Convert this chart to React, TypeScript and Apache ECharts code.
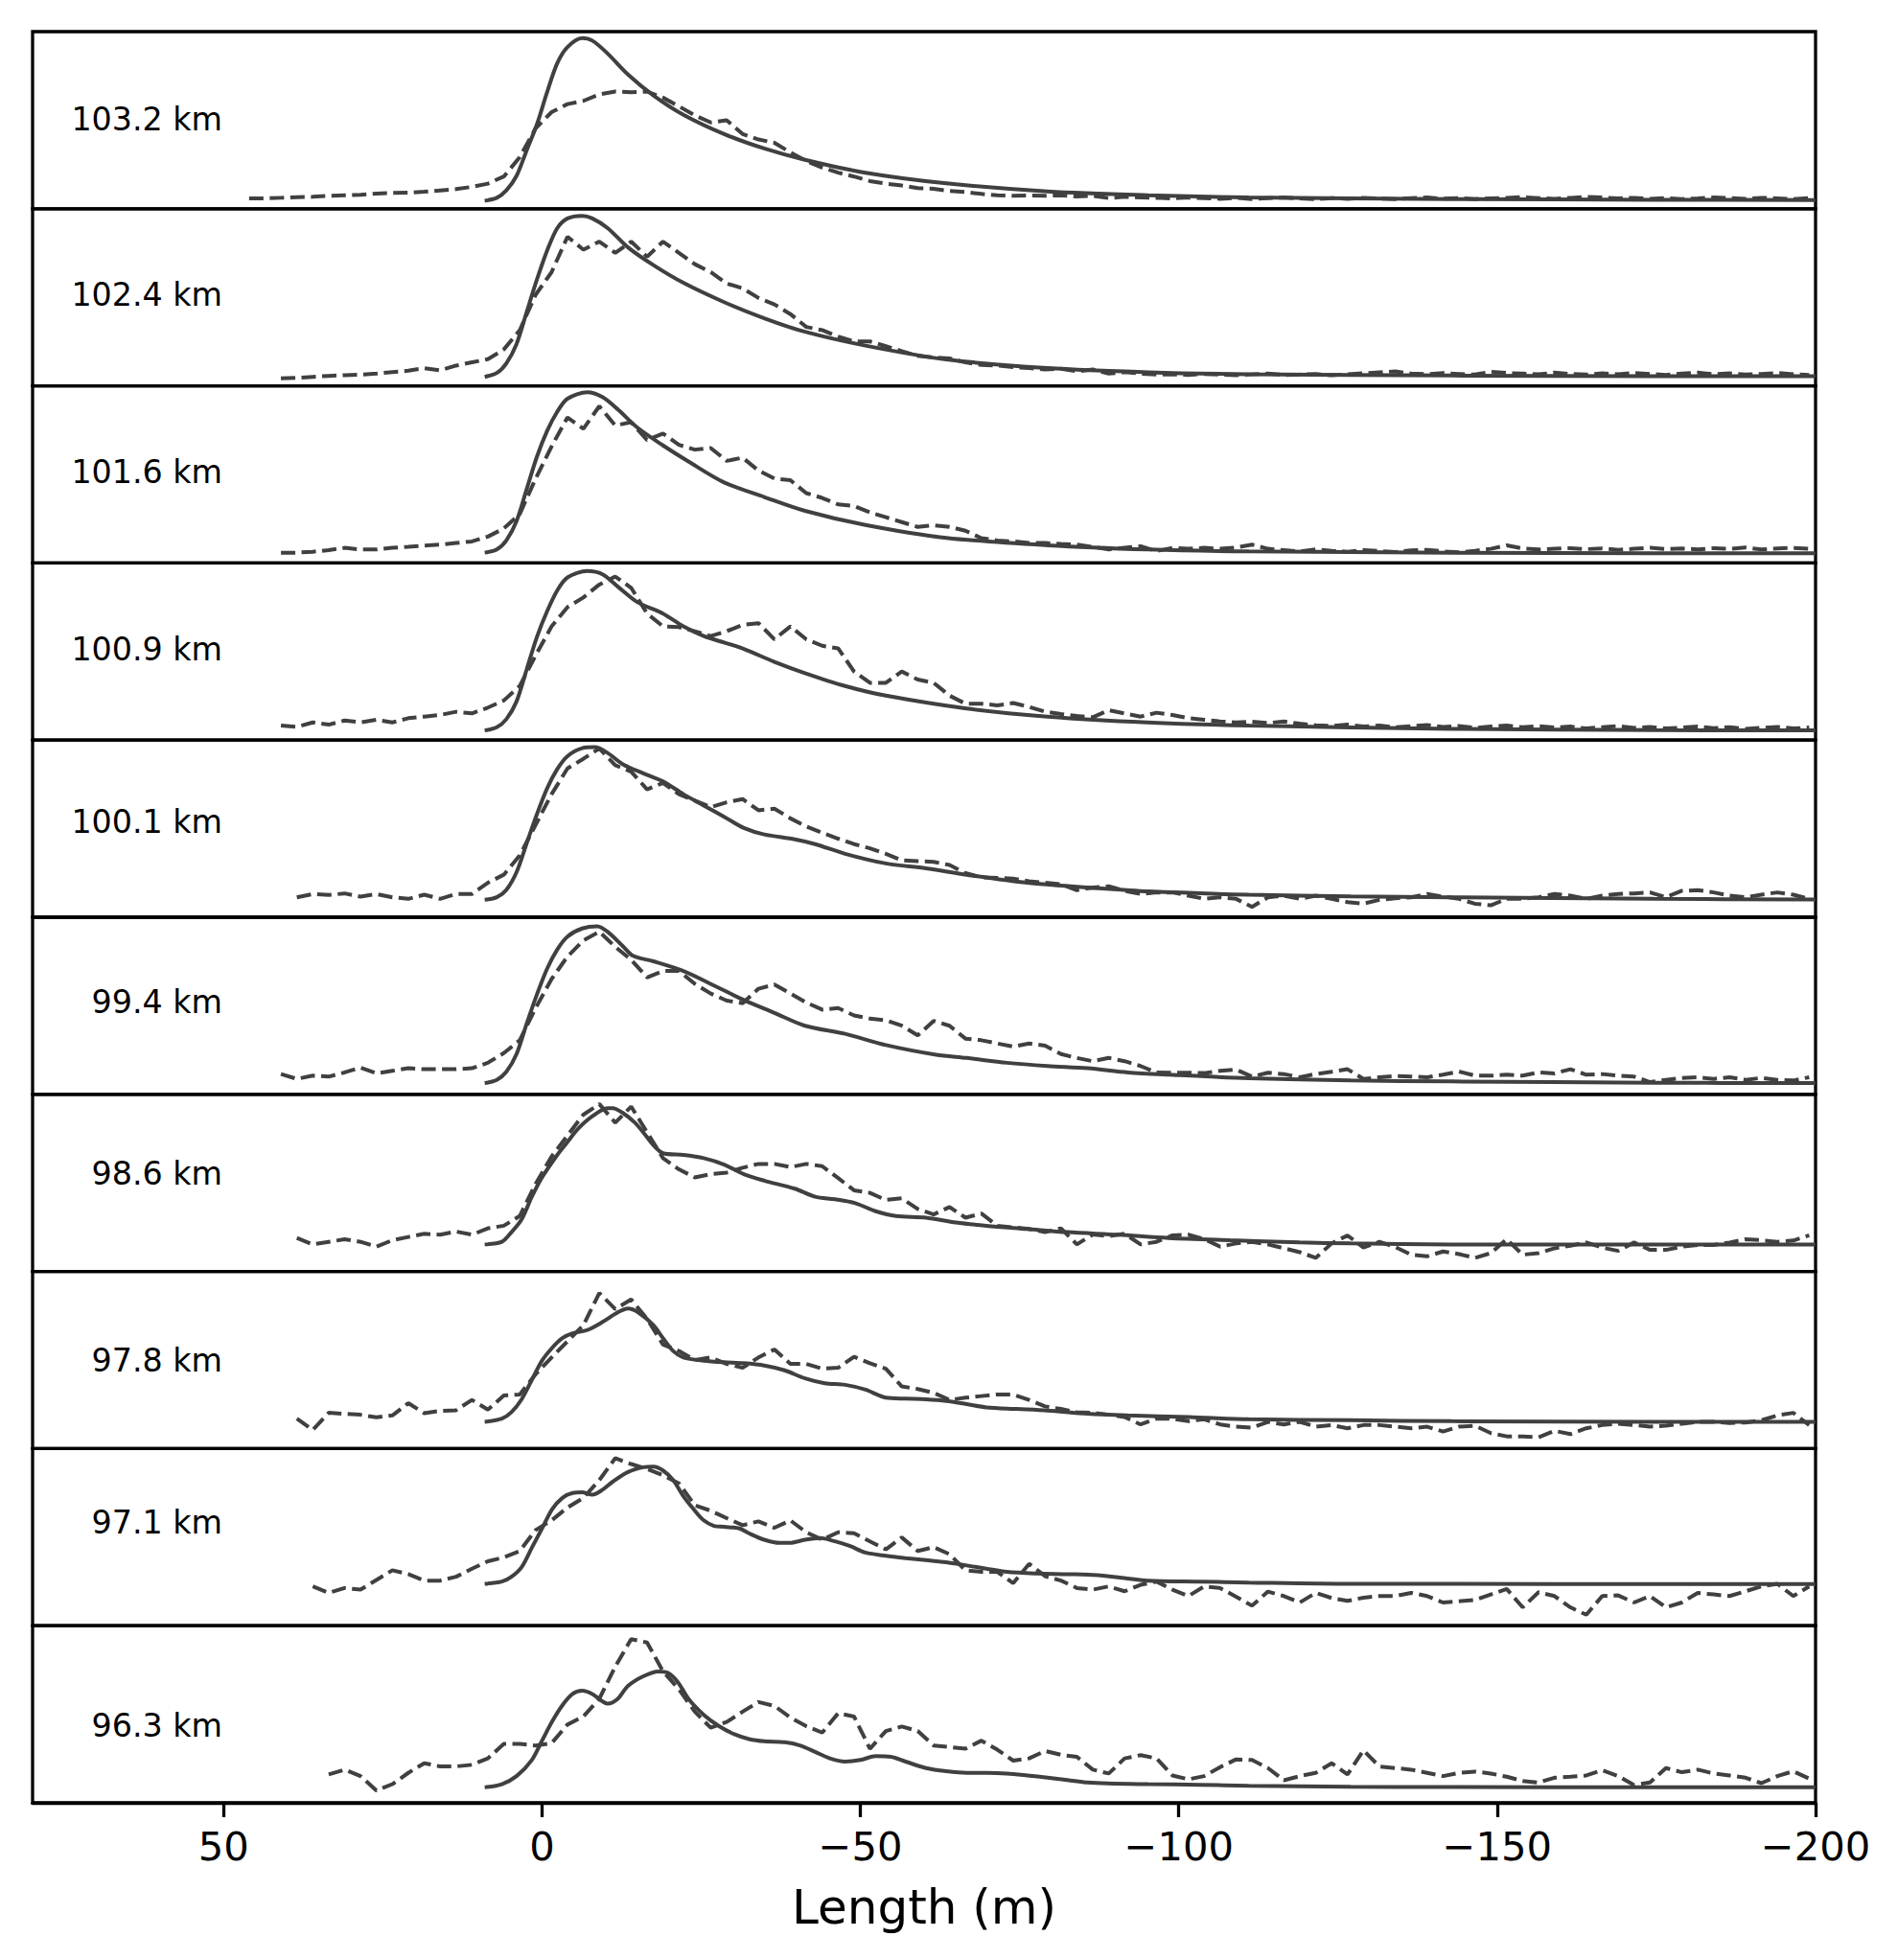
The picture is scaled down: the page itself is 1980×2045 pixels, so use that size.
import React, { useEffect, useRef } from "react";
import * as echarts from "echarts";

const PANEL_LABELS = ["103.2 km", "102.4 km", "101.6 km", "100.9 km", "100.1 km", "99.4 km", "98.6 km", "97.8 km", "97.1 km", "96.3 km"];
const X_TICKS = [50, 0, -50, -100, -150, -200];
const X_MIN = -200;
const X_MAX = 80;
const Y_MAX = 550;
const X_LABEL = "Length (m)";

// common sampling grid of the measured (dashed) profiles, metres
const DASH_X = [
  46, 43.5, 41, 38.5, 36, 33.5, 31, 28.5, 26, 23.5,
  21, 18.5, 16, 13.5, 11, 8.5, 6, 3.5, 1, -1.5,
  -4, -6.5, -9, -11.5, -14, -16.5, -19, -21.5, -24, -26.5,
  -29, -31.5, -34, -36.5, -39, -41.5, -44, -46.5, -49, -51.5,
  -54, -56.5, -59, -61.5, -64, -66.5, -69, -71.5, -74, -76.5,
  -79, -81.5, -84, -86.5, -89, -91.5, -94, -96.5, -99, -101.5,
  -104, -106.5, -109, -111.5, -114, -116.5, -119, -121.5, -124, -126.5,
  -129, -131.5, -134, -136.5, -139, -141.5, -144, -146.5, -149, -151.5,
  -154, -156.5, -159, -161.5, -164, -166.5, -169, -171.5, -174, -176.5,
  -179, -181.5, -184, -186.5, -189, -191.5, -194, -196.5, -199,
];
// index in DASH_X where each measured profile begins
const DASH_START = [0, 2, 2, 2, 3, 2, 3, 3, 4, 5];

const DASH_0 = [
  32, 32, 34, 36, 37, 40, 42, 43, 47, 49,
  50, 53, 57, 61, 68, 78, 100, 160, 250, 300,
  325, 335, 355, 364, 362, 364, 345, 318, 290, 268,
  275, 232, 215, 205, 175, 148, 128, 112, 100, 86,
  78, 72, 64, 62, 55, 52, 46, 42, 40, 41,
  40, 42, 38, 40, 33, 37, 35,
  34, 32, 35, 33, 31, 34, 30, 33, 35, 32, 30, 33, 31, 34, 32, 30, 33, 35, 31, 33,
  30, 32, 34, 36, 33, 31, 34, 37, 35, 32, 34, 31, 33, 30, 32, 35, 33, 31, 34, 32, 30, 33,
];
const DASH_1 = [
  23, 25, 28, 31, 33, 35, 38, 43, 47, 55,
  48, 63, 73, 83, 113, 173, 283, 353, 463, 423,
  448, 413, 448, 401, 448, 413, 378, 353, 318, 303,
  273, 253, 223, 183, 173, 153, 138, 138, 123, 108,
  93, 88, 85, 73, 65, 63, 58, 55, 51, 53,
  45, 51, 38, 43, 38, 35,
  36, 34, 37, 35, 33, 36, 38, 34, 35, 37, 33, 36, 39, 42, 45, 38, 36, 40, 37, 35,
  44, 40, 38, 36, 41, 37, 35, 39, 36, 40, 37, 34, 38, 41, 36, 39, 35, 37, 40, 36, 34,
];
const DASH_2 = [
  32, 32, 35, 40, 47, 42, 42, 47, 50, 54,
  57, 62, 67, 82, 107, 152, 262, 362, 452, 417,
  487, 427, 437, 382, 402, 367, 352, 357, 317, 327,
  287, 262, 257, 217, 202, 182, 177, 157, 142, 127,
  112, 117, 112, 100, 77, 70, 67, 62, 62, 59,
  57, 50, 42, 47, 52, 37, 47, 44, 47, 44,
  48, 57, 44,
  40, 36, 42, 38, 35, 40, 37, 34, 39, 41, 36, 33, 38, 44, 55, 45, 42,
  44, 46, 43, 45, 41, 44, 47, 43, 45, 42, 46, 44, 48, 42, 45, 47, 44,
];
const DASH_3 = [
  45, 41, 55, 48, 61, 55, 63, 55, 68, 73,
  78, 88, 83, 101, 123, 168, 263, 353, 413, 443,
  483, 508, 473, 393, 353, 351, 338, 323, 338, 358,
  363, 313, 353, 313, 293, 285, 213, 178, 178, 213,
  188, 178, 138, 113, 113, 108, 115, 103, 88, 81,
  75, 71, 93, 83, 73, 85, 78, 68, 63, 58,
  55, 57, 53, 58, 51,
  46, 44, 48, 42, 45, 40, 43, 47, 41, 44, 38, 42, 45, 40, 43, 39,
  42, 36, 40, 44, 38, 41, 36, 39, 42, 37, 40, 35, 38, 41, 36, 39,
];
const DASH_4 = [
  62, 72, 69, 74, 64, 72, 62, 57, 70, 57,
  72, 72, 107, 132, 192, 287, 382, 462, 492, 524,
  472, 452, 397, 417, 382, 362, 342, 357, 367, 332,
  337, 307, 282, 262, 244, 227, 214, 197, 177, 174,
  172, 162, 137, 124, 122, 120, 112, 107, 102, 84,
  92, 96, 82, 72, 77, 77, 67, 57, 62, 57,
  32, 62, 67, 57, 67, 57, 47, 42, 54, 59,
  62, 72, 64, 57, 42, 37, 57, 57, 62, 72,
  67, 57, 67, 72, 74, 77, 62, 82, 84, 77,
  67, 62, 70, 77, 70, 57,
];
const DASH_5 = [
  63, 48, 58, 55, 68, 83, 65, 73, 81, 78,
  78, 78, 81, 98, 128, 168, 268, 358, 428, 478,
  505, 458, 418, 363, 383, 383, 343, 313, 291, 283,
  328, 341, 313, 285, 263, 268, 245, 235, 230, 213,
  183, 228, 213, 173, 168, 158, 148, 158, 151, 125,
  113, 103, 113, 103, 88, 68, 67, 67, 66, 73,
  77, 55, 67, 63, 53, 63, 70, 78, 48, 53,
  57, 55, 53, 61, 71, 58, 58, 61, 58, 68,
  65, 78, 61, 63, 58, 55, 38, 45, 51, 53,
  48, 53, 45, 51, 45, 43, 53,
];
const DASH_6 = [
  104, 84, 92, 100, 92, 77, 97, 107, 117, 114,
  124, 114, 134, 142, 172, 272, 357, 422, 487, 520,
  462, 512, 432, 352, 317, 292, 302, 307, 322, 334,
  334, 324, 334, 327, 290, 252, 244, 222, 227, 194,
  177, 200, 167, 180, 142, 137, 132, 122, 134, 84,
  115, 110, 117, 84, 92, 112, 114, 100, 77, 87,
  92, 84, 72, 60, 42, 87, 112, 74, 92, 76,
  52, 47, 62, 54, 42, 57, 100, 52, 57, 72,
  80, 90, 74, 64, 90, 67, 67, 77, 82, 82,
  90, 100, 97, 92, 96, 112,
];
const DASH_7 = [
  93, 58, 111, 108, 105, 97, 103, 141, 110, 117,
  119, 151, 121, 165, 168, 231, 283, 333, 383, 483,
  433, 463, 403, 323, 303, 275, 283, 263, 251, 283,
  308, 263, 263, 248, 251, 285, 265, 248, 193, 185,
  173, 151, 158, 163, 168, 168, 151, 131, 123, 113,
  111, 105, 98, 75, 93, 93, 85, 91, 75, 68,
  65, 83, 75, 83, 68, 73, 63, 73, 73, 68,
  63, 68, 53, 68, 71, 48, 38, 38, 35, 55,
  45, 63, 73, 77, 73, 68, 71, 77, 83, 83,
  79, 81, 88, 103, 111, 73,
];
const DASH_8 = [
  122, 102, 117, 112, 142, 172, 160, 140, 140, 152,
  177, 200, 212, 232, 297, 327, 367, 397, 452, 520,
  502, 487, 467, 442, 374, 357, 334, 312, 324, 304,
  327, 290, 267, 290, 287, 262, 237, 274, 232, 244,
  222, 172, 167, 167, 132, 192, 154, 140, 117, 112,
  122, 107, 127, 137, 112, 92, 122, 117, 90, 62,
  106, 92, 72, 102, 86, 77, 87, 92, 92, 102,
  92, 72, 76, 80, 97, 114, 57, 104, 92, 57,
  34, 92, 94, 72, 92, 57, 72, 102, 97, 92,
  107, 122, 130, 92, 122,
];
const DASH_9 = [
  88, 103, 83, 38, 58, 93, 123, 113, 113, 118,
  138, 183, 183, 178, 185, 243, 268, 323, 423, 508,
  498, 408, 353, 283, 233, 251, 283, 313, 301, 265,
  238, 218, 278, 268, 168, 223, 237, 223, 178, 173,
  168, 193, 165, 131, 138, 161, 149, 143, 103, 91,
  138, 148, 138, 85, 73, 83, 111, 135, 133, 108,
  70, 83, 93, 123, 88, 163, 113, 108, 103, 93,
  83, 93, 97, 91, 81, 68, 63, 78, 81, 85,
  101, 83, 55, 63, 108, 95, 103, 91, 85, 78,
  61, 83, 98, 75,
];

// modelled (solid) profiles as [length, intensity]
const SOLID_0 = [[9, 25], [7.1, 34], [5.6, 57], [4, 102], [2.4, 182], [0.8, 262], [-0.8, 362], [-2.4, 452], [-4, 502], [-6.3, 530], [-7.9, 522], [-10.3, 482], [-13.5, 417], [-17.5, 352], [-22.2, 292], [-28.6, 232], [-34.9, 187], [-41.3, 152], [-50.8, 112], [-63.5, 79], [-79.4, 54], [-95.2, 42], [-111, 35], [-142.9, 30], [-174.6, 28], [-200, 27]];
const SOLID_1 = [[9, 28], [7.1, 40], [5.6, 70], [4, 130], [2.4, 230], [0.8, 330], [-0.8, 420], [-2.4, 490], [-4, 520], [-6.3, 528], [-7.9, 520], [-10.3, 490], [-13.5, 430], [-17.5, 375], [-22.2, 320], [-28.6, 260], [-34.9, 210], [-41.3, 168], [-50.8, 125], [-63.5, 82], [-79.4, 55], [-95.2, 42], [-111, 36], [-142.9, 32], [-174.6, 30], [-200, 30]];
const SOLID_2 = [[9, 32], [7.1, 42], [5.6, 70], [4, 130], [2.4, 230], [0.8, 330], [-0.8, 410], [-2.4, 470], [-4, 510], [-7.1, 530], [-9.5, 515], [-12, 475], [-15, 420], [-19, 365], [-23, 315], [-28.6, 250], [-34.9, 205], [-41.3, 162], [-50.8, 118], [-63.5, 78], [-79.4, 55], [-95.2, 42], [-111, 36], [-142.9, 32], [-174.6, 30], [-200, 30]];
const SOLID_3 = [[9, 30], [7.1, 40], [5.6, 65], [4, 120], [2.4, 220], [0.8, 320], [-0.8, 400], [-2.4, 465], [-4, 505], [-7.1, 525], [-9.5, 515], [-12, 475], [-15, 428], [-19, 393], [-22.2, 353], [-25.4, 323], [-28.6, 303], [-31.7, 283], [-36.5, 243], [-41.3, 208], [-47.6, 168], [-54, 138], [-66.7, 98], [-79.4, 73], [-95, 55], [-111, 45], [-143, 35], [-175, 31], [-200, 30]];
const SOLID_4 = [[9, 54], [7.1, 62], [5.6, 85], [4, 140], [2.4, 230], [0.8, 320], [-0.8, 400], [-2.4, 460], [-4, 500], [-6.3, 525], [-8.3, 528], [-10.3, 510], [-12.7, 475], [-15.9, 447], [-19, 422], [-22.2, 382], [-25.4, 347], [-28.6, 312], [-31.7, 277], [-34.9, 257], [-39.7, 242], [-42.9, 227], [-47.6, 197], [-54, 167], [-60.3, 152], [-66.7, 132], [-76.2, 107], [-87.3, 90], [-95.2, 80], [-111, 70], [-127, 65], [-142.9, 62], [-174.6, 57], [-200, 55]];
const SOLID_5 = [[9, 35], [7.1, 45], [5.6, 70], [4, 125], [2.4, 220], [0.8, 310], [-0.8, 390], [-2.4, 450], [-4, 490], [-6.3, 515], [-8.7, 522], [-10.3, 505], [-12.7, 460], [-14.3, 430], [-17.5, 413], [-22.2, 383], [-27, 338], [-31.7, 293], [-36.5, 253], [-41.3, 213], [-47.6, 188], [-54, 153], [-61.9, 123], [-66.7, 113], [-73, 98], [-79.4, 88], [-85.7, 81], [-92, 68], [-98.4, 61], [-111, 50], [-127, 43], [-142.9, 40], [-174.6, 36], [-200, 35]];
const SOLID_6 = [[9, 84], [6.3, 92], [4.8, 122], [3.2, 162], [1.6, 232], [0, 292], [-2.4, 362], [-4, 402], [-5.6, 442], [-7.9, 482], [-10.3, 507], [-11.1, 507], [-12.7, 492], [-14.6, 462], [-15.9, 432], [-17.5, 392], [-19, 367], [-22.2, 362], [-25.4, 352], [-28.6, 332], [-31.7, 302], [-34.9, 282], [-39.7, 257], [-42.9, 232], [-46, 224], [-49.2, 212], [-52.4, 187], [-55.6, 172], [-60.3, 167], [-65, 152], [-69.8, 142], [-76.2, 132], [-82.5, 122], [-90.5, 114], [-98.4, 104], [-108, 97], [-119, 90], [-127, 87], [-142.9, 84], [-174.6, 84], [-200, 84]];
const SOLID_7 = [[9, 83], [6.3, 93], [4.8, 113], [3.2, 153], [1.6, 213], [0, 273], [-1.6, 313], [-3.2, 343], [-4.8, 358], [-7.1, 368], [-9.5, 393], [-11.9, 423], [-13.5, 435], [-15.1, 423], [-17.5, 383], [-19, 343], [-20.6, 303], [-22.2, 283], [-25.4, 273], [-28.6, 268], [-31.7, 265], [-34.9, 258], [-38.1, 243], [-41.3, 218], [-44.4, 203], [-47.6, 198], [-50.8, 183], [-54, 158], [-57.1, 155], [-60.3, 153], [-63.5, 148], [-66.7, 138], [-69.8, 128], [-74.6, 123], [-79.4, 118], [-85.7, 108], [-92, 103], [-101.6, 98], [-111, 91], [-127, 88], [-142.9, 85], [-174.6, 83], [-200, 83]];
const SOLID_8 = [[9, 130], [6.3, 137], [4.8, 152], [3.2, 182], [1.6, 242], [0, 302], [-1.6, 362], [-3.2, 397], [-4.8, 412], [-6.3, 414], [-7.9, 407], [-9.5, 422], [-11.1, 447], [-13.5, 477], [-15.9, 492], [-17.5, 494], [-19, 482], [-20.6, 452], [-22.2, 402], [-23.8, 362], [-25.4, 327], [-27, 310], [-28.6, 307], [-31, 302], [-32.5, 287], [-34.9, 267], [-37.3, 257], [-38.9, 257], [-41.3, 267], [-43.7, 272], [-46, 262], [-48.4, 247], [-50.8, 227], [-54, 217], [-57.1, 210], [-60.3, 204], [-63.5, 197], [-66.7, 187], [-69.8, 177], [-73, 167], [-77.8, 162], [-82.5, 160], [-87.3, 157], [-90.5, 150], [-95.2, 140], [-103.2, 137], [-111, 134], [-127, 130], [-142.9, 130], [-174.6, 129], [-200, 129]];
const SOLID_9 = [[9, 48], [6.3, 58], [4, 83], [1.6, 133], [0, 193], [-1.6, 253], [-3.2, 303], [-4.8, 338], [-6.3, 348], [-7.9, 338], [-10.3, 308], [-11.9, 323], [-13.5, 363], [-15.9, 393], [-18.3, 408], [-19.8, 403], [-21.4, 373], [-23, 323], [-25.4, 273], [-27.8, 238], [-30.2, 213], [-32.5, 198], [-34.9, 191], [-38.1, 188], [-40.5, 178], [-42.9, 158], [-45.2, 138], [-47.6, 128], [-50, 133], [-52.4, 145], [-54.8, 143], [-57.1, 128], [-60.3, 108], [-63.5, 98], [-66.7, 93], [-69.8, 93], [-73, 91], [-76.2, 85], [-79.4, 78], [-82.5, 71], [-85.7, 63], [-88.9, 60], [-95.2, 58], [-103.2, 56], [-111, 53], [-127, 50], [-142.9, 49], [-174.6, 48], [-200, 48]];

const DASHED = [DASH_0, DASH_1, DASH_2, DASH_3, DASH_4, DASH_5, DASH_6, DASH_7, DASH_8, DASH_9];
const SOLID = [SOLID_0, SOLID_1, SOLID_2, SOLID_3, SOLID_4, SOLID_5, SOLID_6, SOLID_7, SOLID_8, SOLID_9];

// layout (pixels)
const WIDTH = 1980;
const HEIGHT = 2045;
const PLOT_LEFT = 34;
const PLOT_RIGHT = 1894;
const PLOT_TOP = 33;
const PLOT_BOTTOM = 1881;
const LABEL_RIGHT = 232;
const LABEL_DY = [91, 90, 90, 90, 85, 88, 83, 93, 77, 104];

const FONT = "DejaVu Sans";
const LINE_COLOR = "#404040";

function buildOption() {
  const n = PANEL_LABELS.length;
  const ph = (PLOT_BOTTOM - PLOT_TOP) / n;
  const grids: any[] = [];
  const xAxes: any[] = [];
  const yAxes: any[] = [];
  const series: any[] = [];
  const graphics: any[] = [];
  for (let i = 0; i < n; i++) {
    const last = i === n - 1;
    grids.push({
      left: PLOT_LEFT,
      top: PLOT_TOP + i * ph,
      width: PLOT_RIGHT - PLOT_LEFT,
      height: ph,
      show: true,
      borderColor: "#000",
      borderWidth: 3.3,
      backgroundColor: "transparent",
      containLabel: false,
    });
    xAxes.push({
      type: "value",
      gridIndex: i,
      min: X_MIN,
      max: X_MAX,
      inverse: true,
      splitLine: { show: false },
      axisLine: { show: last, onZero: false, lineStyle: { color: "#000", width: 3.3 } },
      axisTick: {
        show: last,
        customValues: X_TICKS,
        length: 15,
        lineStyle: { color: "#000", width: 3.3 },
      },
      axisLabel: {
        show: last,
        customValues: X_TICKS,
        formatter: (v: number) => String(v).replace("-", "\u2212"),
        fontSize: 41.7,
        fontFamily: FONT,
        color: "#000",
        margin: 24,
      },
    });
    yAxes.push({
      type: "value",
      gridIndex: i,
      min: 0,
      max: Y_MAX,
      show: false,
      splitLine: { show: false },
    });
    series.push({
      type: "line",
      xAxisIndex: i,
      yAxisIndex: i,
      data: SOLID[i],
      smooth: 0.3,
      showSymbol: false,
      symbol: "none",
      lineStyle: { color: LINE_COLOR, width: 4 },
      silent: true,
    });
    series.push({
      type: "line",
      xAxisIndex: i,
      yAxisIndex: i,
      data: DASHED[i].map((v, k) => [DASH_X[DASH_START[i] + k], v]),
      showSymbol: false,
      symbol: "none",
      lineStyle: { color: LINE_COLOR, width: 4, type: [15, 6.5] },
      silent: true,
    });
    graphics.push({
      type: "text",
      x: LABEL_RIGHT,
      y: PLOT_TOP + i * ph + LABEL_DY[i],
      style: {
        text: PANEL_LABELS[i],
        fontSize: 33.3,
        fontFamily: FONT,
        fill: "#000",
        align: "right",
        verticalAlign: "middle",
      },
    });
  }
  graphics.push({
    type: "text",
    x: (PLOT_LEFT + PLOT_RIGHT) / 2,
    y: 1990,
    style: {
      text: X_LABEL,
      fontSize: 50,
      fontFamily: FONT,
      fill: "#000",
      align: "center",
      verticalAlign: "middle",
    },
  });
  return {
    animation: false,
    backgroundColor: "#fff",
    grid: grids,
    xAxis: xAxes,
    yAxis: yAxes,
    series,
    graphic: graphics,
  };
}

export default function App() {
  const ref = useRef<HTMLDivElement>(null);
  useEffect(() => {
    document.body.style.margin = "0";
    if (!ref.current) return;
    const chart = echarts.init(ref.current, undefined, { renderer: "svg" });
    chart.setOption(buildOption());
    return () => chart.dispose();
  }, []);
  return <div ref={ref} style={{ width: WIDTH, height: HEIGHT, background: "#fff" }} />;
}
